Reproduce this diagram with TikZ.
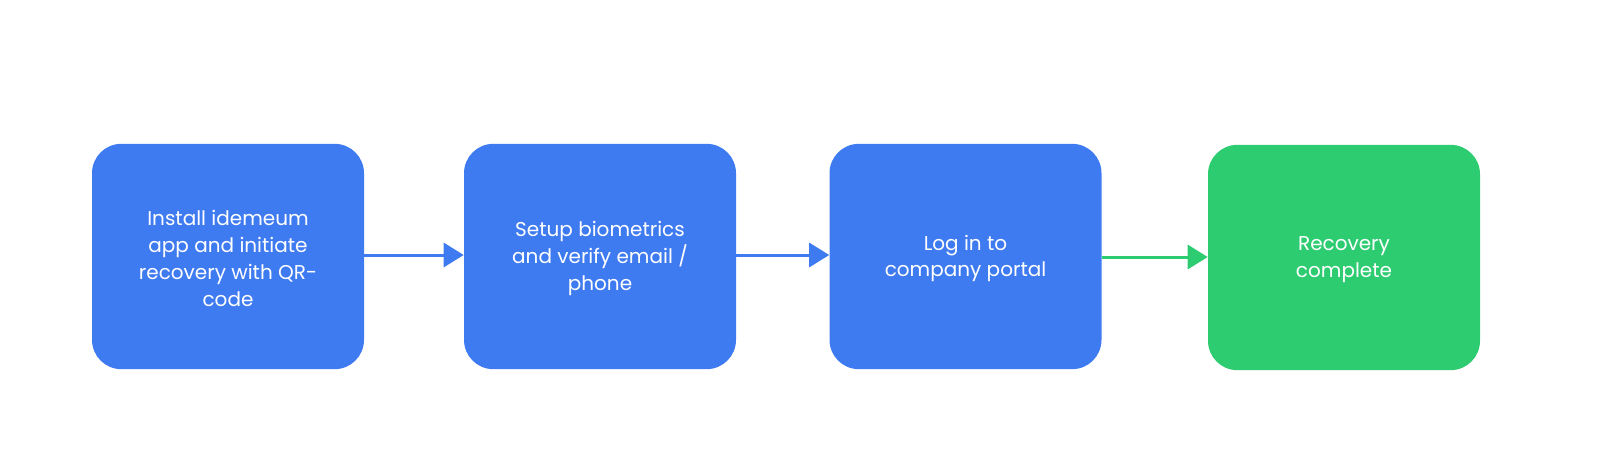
\documentclass[tikz,border=0pt]{standalone}
\usepackage{fontspec}
\setmainfont{Poppins}
\usetikzlibrary{arrows.meta}
\definecolor{boxblue}{RGB}{63,123,240}
\definecolor{boxgreen}{RGB}{46,204,113}
\begin{document}
\begin{tikzpicture}[x=0.75pt,y=-0.75pt,
  stepbox/.style={fill=#1,draw=none,rounded corners=22pt,minimum width=204pt,minimum height=169pt},
  steptext/.style={text=white,align=center,font=\fontsize{15pt}{20.2pt}\selectfont,inner sep=0pt},
  flow/.style={draw=#1,line width=2.25pt,-{Triangle[length=15pt,width=18pt]},shorten <=-0.5pt}
]
\useasboundingbox (0,0) rectangle (1600,472);
\node[stepbox=boxblue] (a) at (228,256.5) {};
\node[stepbox=boxblue] (b) at (600,256.5) {};
\node[stepbox=boxblue] (c) at (965.5,256.5) {};
\node[stepbox=boxgreen] (d) at (1344,257.5) {};
\node[steptext] (ta) at ([yshift=-1.5pt]a.center) {Install idemeum\\app and initiate\\recovery with QR-\\code};
\node[steptext] (tb) at ([yshift=-1.5pt]b.center) {Setup biometrics\\and verify email /\\phone};
\node[steptext] (tc) at ([yshift=-1.5pt]c.center) {Log in to\\company portal};
\node[steptext] (td) at ([yshift=-1.5pt]d.center) {Recovery\\complete};
\draw[flow=boxblue] (a.east |- 0,255) -- (b.west |- 0,255);
\draw[flow=boxblue] (b.east |- 0,255) -- (c.west |- 0,255);
\draw[flow=boxgreen] ([xshift=1pt]c.east |- 0,257) -- (d.west |- 0,257);
\end{tikzpicture}
\end{document}
